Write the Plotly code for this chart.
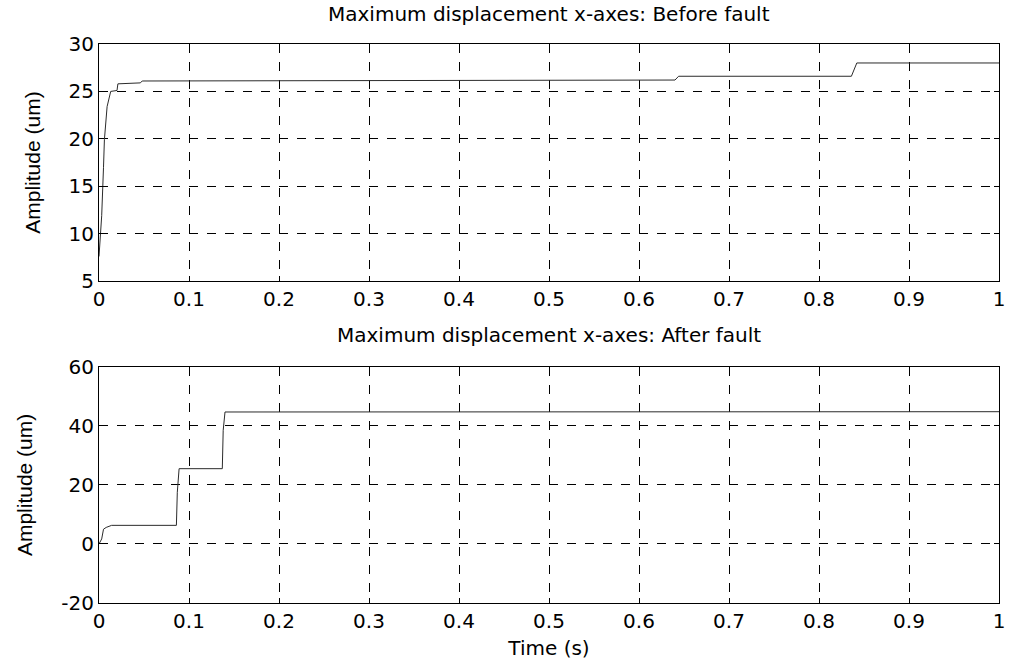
import plotly.graph_objects as go

# Maximum x-axis displacement, before the fault
t_before = [0, 0.003, 0.005, 0.006, 0.009, 0.013, 0.020, 0.021, 0.046, 0.048,
            0.640, 0.644, 0.836, 0.839, 0.842, 1.0]
amp_before = [7.6, 11.9, 17.0, 19.9, 23.4, 25.0, 25.1, 25.8, 25.9, 26.1,
              26.2, 26.6, 26.6, 27.3, 28.0, 28.0]

# Maximum x-axis displacement, after the fault
t_after = [0, 0.003, 0.005, 0.008, 0.014, 0.086, 0.087, 0.089, 0.137, 0.138, 0.140, 1.0]
amp_after = [0, 1.7, 5.0, 5.6, 6.3, 6.3, 17.5, 25.5, 25.5, 38.5, 44.7, 44.8]

x_ticks = [0, 0.1, 0.2, 0.3, 0.4, 0.5, 0.6, 0.7, 0.8, 0.9, 1]
x_labels = ["0", "0.1", "0.2", "0.3", "0.4", "0.5", "0.6", "0.7", "0.8", "0.9", "1"]
y_ticks_before = [5, 10, 15, 20, 25, 30]
y_labels_before = ["5", "10", "15", "20", "25", "30"]
y_ticks_after = [-20, 0, 20, 40, 60]
y_labels_after = ["-20", "0", "20", "40", "60"]

titles = ["Maximum displacement x-axes: Before fault",
          "Maximum displacement x-axes: After fault"]
y_title = "Amplitude (um)"
x_title = "Time (s)"

TICK_FONT = dict(family="DejaVu Sans", size=20, color="black")
TITLE_FONT = dict(family="DejaVu Sans", size=20, color="black")
LINE_COLOR = "#2b2b2b"

fig = go.Figure()
fig.add_trace(go.Scatter(x=t_before, y=amp_before, mode="lines",
                         line=dict(color=LINE_COLOR, width=1),
                         xaxis="x", yaxis="y", showlegend=False))
fig.add_trace(go.Scatter(x=t_after, y=amp_after, mode="lines",
                         line=dict(color=LINE_COLOR, width=1),
                         xaxis="x2", yaxis="y2", showlegend=False))

common_x = dict(range=[0, 1], tickvals=x_ticks, ticktext=x_labels,
                showgrid=True, gridcolor="black", griddash="dash", gridwidth=1,
                showline=True, linecolor="black", linewidth=1, mirror="ticks",
                ticks="inside", ticklen=5, tickcolor="black",
                tickfont=TICK_FONT, zeroline=False)
common_y = dict(showgrid=True, gridcolor="black", griddash="dash", gridwidth=1,
                showline=True, linecolor="black", linewidth=1, mirror="ticks",
                ticks="inside", ticklen=5, tickcolor="black",
                tickfont=TICK_FONT, zeroline=False,
                title=dict(text=y_title, standoff=22,
                           font=dict(family="Liberation Sans", size=21, color="black")))

fig.update_layout(
    width=1017, height=667,
    margin=dict(l=99, r=12, t=44, b=62),
    paper_bgcolor="white", plot_bgcolor="white",
    xaxis=dict(common_x, domain=[0, 1], anchor="y"),
    yaxis=dict(common_y, domain=[0.5758, 1], range=[5, 30],
               tickvals=y_ticks_before, ticktext=y_labels_before, anchor="x"),
    xaxis2=dict(common_x, domain=[0, 1], anchor="y2",
                title=dict(text=x_title, standoff=8, font=TITLE_FONT)),
    yaxis2=dict(common_y, domain=[0, 0.4225], range=[-20, 60],
                tickvals=y_ticks_after, ticktext=y_labels_after, anchor="x2"),
    annotations=[
        dict(text=titles[0], xref="paper", yref="paper", x=0.5, y=1,
             yshift=16, xanchor="center", yanchor="bottom", showarrow=False,
             font=TITLE_FONT),
        dict(text=titles[1], xref="paper", yref="paper", x=0.5, y=0.4225,
             yshift=18, xanchor="center", yanchor="bottom", showarrow=False,
             font=TITLE_FONT),
    ],
)

fig.write_html("out.html")
